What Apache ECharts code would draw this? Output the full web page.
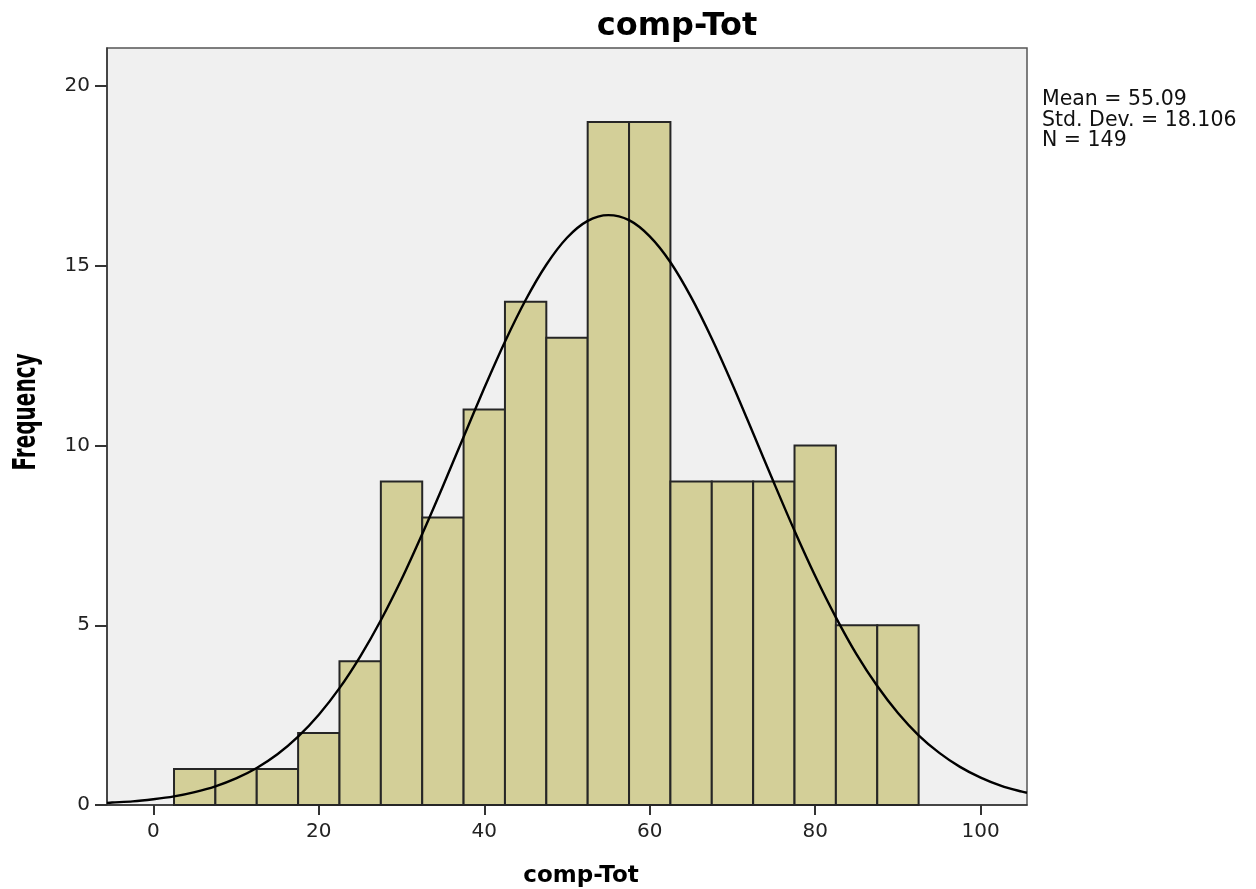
<!DOCTYPE html>
<html>
<head>
<meta charset="utf-8">
<script src="https://cdn.jsdelivr.net/npm/echarts@6/dist/echarts.min.js"></script>
<style>
html,body{margin:0;padding:0;background:#fff;}
#chart{width:1256px;height:889px;}
</style>
</head>
<body>
<div id="chart"></div>
<script>
// ---- data ----
const titleText = 'comp-Tot';
const xAxisName = 'comp-Tot';
const yAxisName = 'Frequency';
const binCenters = [5, 10, 15, 20, 25, 30, 35, 40, 45, 50, 55, 60, 65, 70, 75, 80, 85, 90];
const binCounts  = [1, 1, 1, 2, 4, 9, 8, 11, 14, 13, 19, 19, 9, 9, 9, 10, 5, 5];
const binWidth = 5;
// fitted normal curve
const curveX = [-5.6, -5, -2.5, 0, 2.5, 5, 7.5, 10, 12.5, 15, 17.5, 20, 22.5, 25, 27.5, 30, 32.5, 35, 37.5, 40, 42.5, 45, 47.5, 50, 52.5, 55, 57.5, 60, 62.5, 65, 67.5, 70, 72.5, 75, 77.5, 80, 82.5, 85, 87.5, 90, 92.5, 95, 97.5, 100, 102.5, 105, 105.6];
const curveY = [0.06, 0.07, 0.10, 0.16, 0.24, 0.36, 0.52, 0.74, 1.03, 1.41, 1.90, 2.51, 3.25, 4.13, 5.14, 6.28, 7.54, 8.87, 10.24, 11.60, 12.89, 14.05, 15.03, 15.78, 16.25, 16.41, 16.27, 15.82, 15.10, 14.13, 12.98, 11.70, 10.34, 8.97, 7.63, 6.37, 5.22, 4.19, 3.31, 2.56, 1.94, 1.45, 1.06, 0.76, 0.53, 0.37, 0.34];
const xTicks = [0, 20, 40, 60, 80, 100];
const yTicks = [0, 5, 10, 15, 20];
const statsLabels = ['Mean', 'Std. Dev.', 'N'];
const statsValues = ['55.09', '18.106', '149'];

// ---- chart ----
const chart = echarts.init(document.getElementById('chart'), null, {renderer: 'canvas'});
const FONT = 'DejaVu Sans';
const barData = binCenters.map((c, i) => [c, binCounts[i]]);
const curveData = curveX.map((x, i) => [x, curveY[i]]);

const graphics = [
  {type: 'text', x: 677, y: 27, z: 100,
   style: {text: titleText, font: 'bold 32px "' + FONT + '"', fill: '#000', align: 'center', verticalAlign: 'middle'}},
  {type: 'text', x: 581, y: 876, z: 100,
   style: {text: xAxisName, font: 'bold 23px "' + FONT + '"', fill: '#000', align: 'center', verticalAlign: 'middle'}},
  {type: 'text', x: 27, y: 412, rotation: Math.PI / 2, scaleY: 1.6, z: 100,
   style: {text: yAxisName, font: 'bold 20px "' + FONT + '"', fill: '#000', align: 'center', verticalAlign: 'middle'}}
];
statsLabels.forEach((l, i) => {
  graphics.push({type: 'text', x: 1042, y: 100 + i * 20.5, z: 100,
    style: {text: l + ' = ' + statsValues[i], font: '20.5px "' + FONT + '"', fill: '#111', align: 'left', verticalAlign: 'middle'}});
});

chart.setOption({
  animation: false,
  backgroundColor: '#ffffff',
  grid: {left: 107, top: 48, width: 920, height: 757, show: true,
         backgroundColor: '#f0f0f0', borderColor: '#555', borderWidth: 1.5},
  xAxis: {
    type: 'value', min: -5.6, max: 105.6,
    splitLine: {show: false},
    axisLine: {show: true, onZero: false, lineStyle: {color: '#333', width: 1.5}},
    axisTick: {show: true, length: 10, customValues: xTicks, lineStyle: {color: '#333', width: 2}},
    axisLabel: {customValues: xTicks, margin: 17, color: '#222', fontSize: 20, fontFamily: FONT}
  },
  yAxis: {
    type: 'value', min: 0, max: 21.06,
    splitLine: {show: false},
    axisLine: {show: true, onZero: false, lineStyle: {color: '#333', width: 1.5}},
    axisTick: {show: true, length: 12, customValues: yTicks, lineStyle: {color: '#333', width: 2}},
    axisLabel: {customValues: yTicks, margin: 17, color: '#222', fontSize: 20, fontFamily: FONT, padding: [5, 0, 0, 0]}
  },
  graphic: graphics,
  series: [
    {
      type: 'custom',
      data: barData,
      z: 2,
      renderItem: function (params, api) {
        const x = api.value(0), y = api.value(1);
        const p0 = api.coord([x - binWidth / 2, y]);
        const p1 = api.coord([x + binWidth / 2, 0]);
        return {
          type: 'rect',
          shape: {x: p0[0], y: p0[1], width: p1[0] - p0[0], height: p1[1] - p0[1]},
          style: {fill: '#d3cf98', stroke: '#262626', lineWidth: 2}
        };
      }
    },
    {
      type: 'line',
      data: curveData,
      z: 3,
      smooth: 0.3,
      symbol: 'none',
      lineStyle: {color: '#000', width: 2.4}
    }
  ]
});
</script>
</body>
</html>
